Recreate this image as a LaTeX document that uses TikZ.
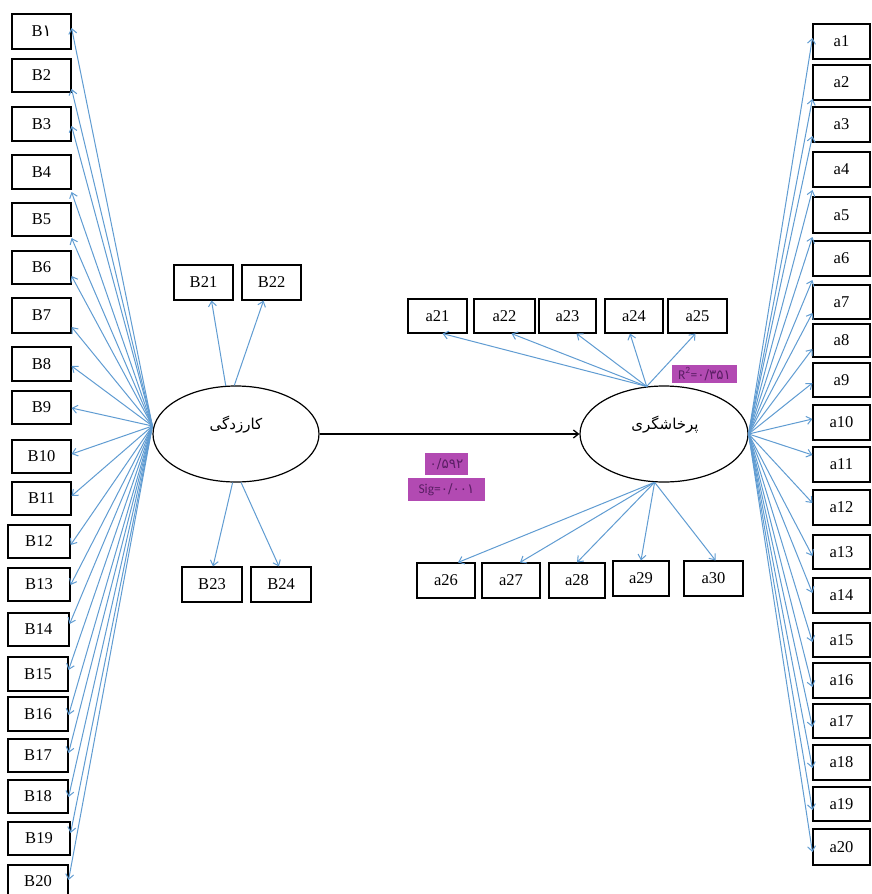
\documentclass[tikz,border=0pt]{standalone}
\usepackage{fontspec}
\setmainfont{Liberation Serif}
\newfontfamily\arabicfont[Script=Arabic]{DejaVu Sans}
\newfontfamily\labfont{Carlito}
\TeXXeTstate=1
\usetikzlibrary{arrows.meta,calc,shapes.geometric}
\definecolor{ln}{RGB}{96,156,210}
\definecolor{mag}{RGB}{178,74,178}
\definecolor{magtxt}{RGB}{90,30,100}
\tikzset{
  ibox/.style={draw=black, line width=1.15pt, fill=white, inner sep=0pt, font=\fontsize{16.5}{16.5}\selectfont},
  lat/.style={ellipse, draw=black, line width=1.2pt, fill=white, inner sep=0pt},
  ar/.style={draw=ln, line width=1pt, -{Straight Barb[length=5pt,width=8pt]}},
  mainar/.style={draw=black, line width=1.3pt, -{Straight Barb[length=5pt,width=8pt]}},
  mlab/.style={fill=mag, text=magtxt, inner sep=0pt, font=\fontsize{13.5}{13.5}\selectfont},
  latlab/.style={font=\arabicfont\fontsize{15}{15}\selectfont, inner sep=0pt}
}
\newcommand\mybox[6]{\node[ibox, minimum width={#5-#3}, minimum height={#6-#4}] (#1) at ({(#3+#5)/2},{(#4+#6)/2}) {#2};}
\begin{document}
\begin{tikzpicture}[x=1pt,y=-1pt]
\useasboundingbox (0,0) rectangle (871,894);
\fill[white] (0,0) rectangle (871,894);
% left boxes
\mybox{B1}{B{\arabicfont ۱}}{12}{14}{71}{49}
\mybox{B2}{B2}{12}{59}{71}{92}
\mybox{B3}{B3}{12}{107}{71}{141}
\mybox{B4}{B4}{12}{155}{71}{189}
\mybox{B5}{B5}{12}{203}{71}{236}
\mybox{B6}{B6}{12}{251}{71}{284}
\mybox{B7}{B7}{12}{298}{71}{333}
\mybox{B8}{B8}{12}{347}{71}{381}
\mybox{B9}{B9}{12}{391}{71}{424}
\mybox{B10}{B10}{12}{440}{71}{473}
\mybox{B11}{B11}{12}{482}{71}{515}
\mybox{B12}{B12}{8}{525}{70}{558}
\mybox{B13}{B13}{8}{568}{70}{601}
\mybox{B14}{B14}{8}{613}{69}{646}
\mybox{B15}{B15}{8}{657}{68}{691}
\mybox{B16}{B16}{8}{697}{68}{731}
\mybox{B17}{B17}{8}{739}{68}{772}
\mybox{B18}{B18}{8}{780}{68}{813}
\mybox{B19}{B19}{8}{822}{70}{855}
\mybox{B20}{B20}{8}{865}{68}{898}
% B21-B24
\mybox{B21}{B21}{174}{265}{233}{300}
\mybox{B22}{B22}{242}{265}{301}{300}
\mybox{B23}{B23}{182}{567}{242}{602}
\mybox{B24}{B24}{251}{567}{311}{602}
% right boxes
\mybox{a1}{a1}{813}{24}{870}{59}
\mybox{a2}{a2}{813}{65}{870}{100}
\mybox{a3}{a3}{813}{107}{870}{142}
\mybox{a4}{a4}{813}{152}{870}{187}
\mybox{a5}{a5}{813}{197}{870}{233}
\mybox{a6}{a6}{813}{241}{870}{276}
\mybox{a7}{a7}{813}{285}{870}{319}
\mybox{a8}{a8}{813}{324}{870}{357}
\mybox{a9}{a9}{813}{363}{870}{397}
\mybox{a10}{a10}{813}{405}{870}{440}
\mybox{a11}{a11}{813}{447}{870}{482}
\mybox{a12}{a12}{813}{490}{870}{525}
\mybox{a13}{a13}{813}{535}{870}{569}
\mybox{a14}{a14}{813}{578}{870}{613}
\mybox{a15}{a15}{813}{623}{870}{657}
\mybox{a16}{a16}{813}{663}{870}{698}
\mybox{a17}{a17}{813}{704}{870}{738}
\mybox{a18}{a18}{813}{745}{870}{780}
\mybox{a19}{a19}{813}{787}{870}{821}
\mybox{a20}{a20}{813}{829}{870}{865}
% a21-a30
\mybox{a21}{a21}{408}{299}{467}{333}
\mybox{a22}{a22}{474}{299}{535}{333}
\mybox{a23}{a23}{539}{299}{596}{333}
\mybox{a24}{a24}{605}{299}{663}{333}
\mybox{a25}{a25}{668}{299}{727}{333}
\mybox{a26}{a26}{417}{563}{475}{598}
\mybox{a27}{a27}{482}{563}{540}{598}
\mybox{a28}{a28}{549}{563}{605}{598}
\mybox{a29}{a29}{613}{561}{669}{596}
\mybox{a30}{a30}{684}{561}{743}{596}
% latent variables
\node[lat, minimum width=166, minimum height=96] (E1) at (236,434) {};
\node[lat, minimum width=168, minimum height=96] (E2) at (664,434) {};
\node[latlab] (t1) at (236,425) {\beginR کارزدگی\endR};
\node[latlab] (t2) at (665,425) {\beginR پرخاشگری\endR};
\coordinate (lo) at ([yshift=8pt]E1.west);
% left fan
\foreach \n/\y in {1/28,2/89,3/126,4/192,5/238,6/276,7/327,8/366,9/408,10/454,11/496,12/545,13/585,14/624,15/670,16/715,17/753,18/797,19/833,20/880}
  \draw[ar] (lo) -- (B\n.east |- 0,\y);
% right fan
\foreach \n/\y in {1/38,2/99,3/136,4/190,5/237,6/280,7/313,8/349,9/383,10/419,11/455,12/503,13/556,14/593,15/642,16/687,17/727,18/768,19/810,20/852}
  \draw[ar] (E2.east) -- (a\n.west |- 0,\y);
% small fans
\draw[ar] (E1.102) -- ([xshift=8pt]B21.south);
\draw[ar] (E1.92) -- ([xshift=-8pt]B22.south);
\draw[ar] (E1.266) -- ([xshift=1pt]B23.north);
\draw[ar] (E1.276) -- ([xshift=-2pt]B24.north);
\draw[ar] (E2.110) -- ([xshift=5pt]a21.south);
\draw[ar] (E2.110) -- ([xshift=7pt]a22.south);
\draw[ar] (E2.110) -- ([xshift=9pt]a23.south);
\draw[ar] (E2.110) -- ([xshift=-4pt]a24.south);
\draw[ar] (E2.110) -- ([xshift=-2pt]a25.south);
\draw[ar] (E2.259) -- ([xshift=12pt]a26.north);
\draw[ar] (E2.259) -- ([xshift=9pt]a27.north);
\draw[ar] (E2.259) -- (a28.north);
\draw[ar] (E2.259) -- (a29.north);
\draw[ar] (E2.259) -- ([xshift=2pt]a30.north);
% main path
\draw[mainar] (E1.east) -- (E2.west);
% magenta labels
\node[mlab, minimum width=65, minimum height=18] (r2) at (704.5,374) {{\labfont R\textsuperscript{2}=}{\arabicfont ۰/۳۵۱}};
\node[mlab, minimum width=43, minimum height=22] (beta) at (446.5,464) {{\arabicfont ۰/۵۹۲}};
\node[mlab, minimum width=77, minimum height=23] (sig) at (446.5,489.5) {{\labfont Sig=}{\arabicfont ۰/۰۰۱}};
\end{tikzpicture}
\end{document}
